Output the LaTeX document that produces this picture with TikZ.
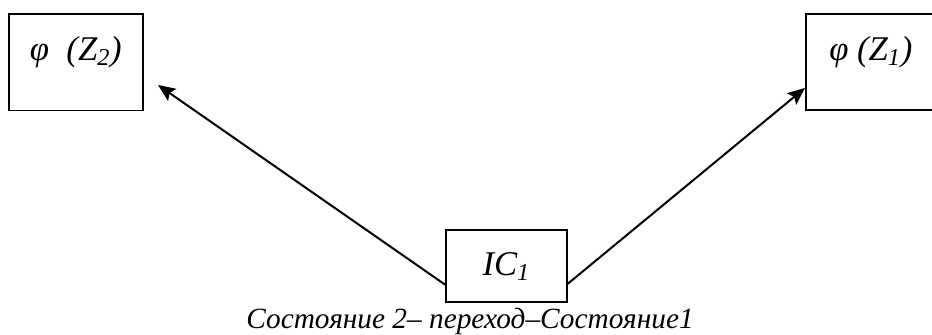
\documentclass[tikz,border=0pt]{standalone}
\usepackage{fontspec}
\setmainfont{Liberation Serif}
\usetikzlibrary{arrows.meta}
\begin{document}
\begin{tikzpicture}[x=0.75pt,y=-0.75pt,
  font=\fontsize{22}{26}\selectfont\itshape,
  box/.style={draw,line width=1.2pt,inner xsep=0pt,inner ysep=0pt,anchor=north west,
    font=\fontsize{26}{30}\selectfont\itshape},
  arr/.style={line width=1.5pt,-{Stealth[length=13pt,width=11pt,inset=2.5pt]}}]
  \useasboundingbox (0,0) rectangle (932,335);
  \node[box,minimum width=100.5pt,text height=35pt,text depth=37.5pt] (z2) at (8,13) {φ\ \ (Z\textsubscript{2})};
  \node[box,minimum width=97.5pt,text height=35pt,text depth=37pt] (z1) at (805,13) {φ (Z\textsubscript{1})};
  \node[box,minimum width=90.75pt,text height=34.5pt,text depth=19.5pt] (ic) at (445,229) {IC\textsubscript{1}};
  \node[anchor=base] (cap) at (470,328) {Состояние 2– переход–Состояние1};
  \coordinate (ltip) at (158,85);
  \draw[arr] ([yshift=13.5pt]ic.south west) -- (ltip);
  \draw[arr] ([yshift=14pt]ic.south east) -- ([yshift=17pt]z1.south west);
\end{tikzpicture}
\end{document}
